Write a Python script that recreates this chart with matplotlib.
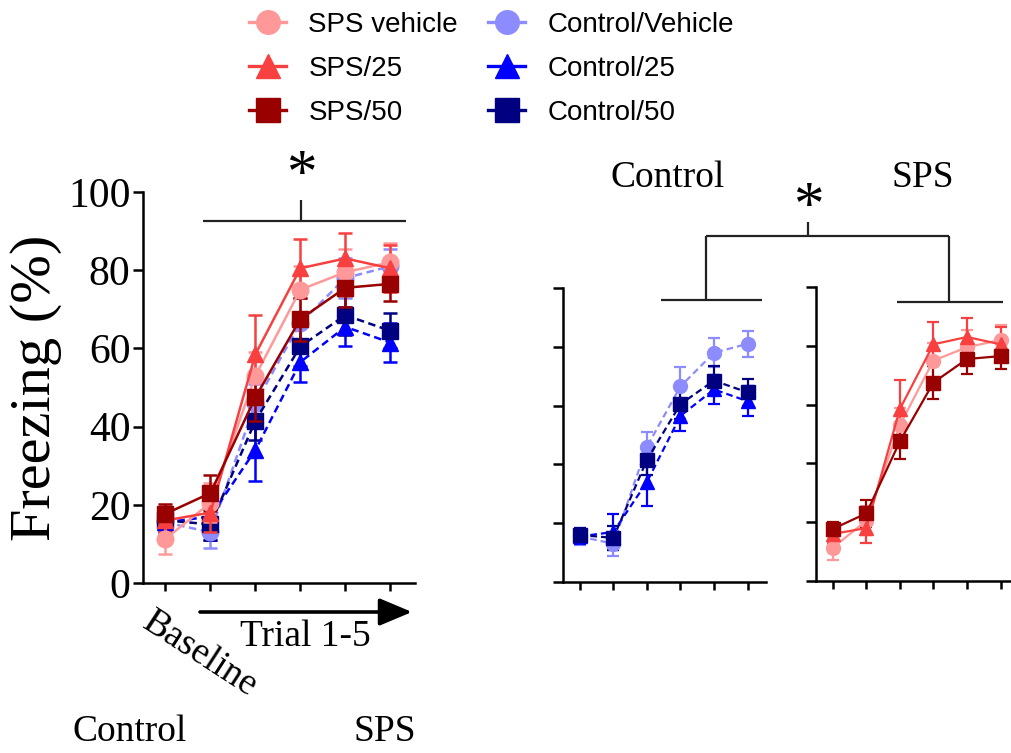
import matplotlib
matplotlib.use("Agg")
import matplotlib.pyplot as plt
from matplotlib.lines import Line2D
from matplotlib.patches import FancyArrowPatch
import numpy as np

# ---- data ----
timepoints = ["Baseline", "Trial 1", "Trial 2", "Trial 3", "Trial 4", "Trial 5"]
group_names = ["SPS vehicle", "SPS/25", "SPS/50", "Control/Vehicle", "Control/25", "Control/50"]

sps_vehicle = [11.3, 20.5, 53.0, 75.0, 79.5, 82.0]
sps_vehicle_err = [4.0, 5.0, 6.0, 6.0, 6.0, 5.0]
sps_25 = [16.0, 18.0, 58.5, 80.5, 83.0, 80.5]
sps_25_err = [3.0, 5.0, 10.0, 7.5, 6.5, 6.0]
sps_50 = [17.7, 23.0, 47.5, 67.5, 75.5, 76.5]
sps_50_err = [2.5, 4.5, 6.0, 5.5, 5.0, 4.5]
ctl_vehicle = [15.5, 13.0, 46.0, 66.5, 78.0, 81.0]
ctl_vehicle_err = [3.0, 4.0, 5.0, 6.5, 5.0, 4.5]
ctl_25 = [15.5, 17.0, 34.0, 56.5, 65.5, 61.5]
ctl_25_err = [2.5, 6.0, 8.0, 5.0, 5.0, 5.0]
ctl_50 = [16.0, 15.0, 41.5, 60.5, 68.5, 64.5]
ctl_50_err = [2.5, 4.0, 5.0, 5.0, 5.0, 4.5]

y_ticks = [0, 20, 40, 60, 80, 100]

# ---- styles ----
colors = {"SPS vehicle": "#FF9999", "SPS/25": "#F84040", "SPS/50": "#990000",
          "Control/Vehicle": "#8C8CFF", "Control/25": "#0000FF", "Control/50": "#000080"}
markers = {"SPS vehicle": "o", "SPS/25": "^", "SPS/50": "s",
           "Control/Vehicle": "o", "Control/25": "^", "Control/50": "s"}
series = {"SPS vehicle": (sps_vehicle, sps_vehicle_err),
          "SPS/25": (sps_25, sps_25_err),
          "SPS/50": (sps_50, sps_50_err),
          "Control/Vehicle": (ctl_vehicle, ctl_vehicle_err),
          "Control/25": (ctl_25, ctl_25_err),
          "Control/50": (ctl_50, ctl_50_err)}
dash = (0, (3.0, 1.8))

SERIF = "Liberation Serif"
SANS = "Liberation Sans"

W, H = 1012, 753
fig = plt.figure(figsize=(W / 100, H / 100), dpi=100)
fig.patch.set_facecolor("white")


def px_ax(x0, y0, x1, y1):
    return [x0 / W, 1 - y1 / H, (x1 - x0) / W, (y1 - y0) / H]


def style_axes(ax, labels):
    for s in ["top", "right"]:
        ax.spines[s].set_visible(False)
    for s in ["left", "bottom"]:
        ax.spines[s].set_linewidth(1.8)
    ax.set_xlim(-0.5, 5.55)
    ax.set_ylim(0, 100)
    ax.set_yticks(y_ticks)
    ax.set_xticks(np.arange(len(timepoints)))
    ax.set_xticklabels([])
    ax.tick_params(axis="y", length=7, width=1.8, direction="out")
    ax.tick_params(axis="x", length=6, width=1.8, direction="out")
    if labels:
        ax.set_yticklabels([str(v) for v in y_ticks], fontfamily=SERIF, fontsize=30)
        ax.tick_params(axis="y", pad=2)
    else:
        ax.set_yticklabels([])


def draw(ax, names, ms, cap, lw):
    x = np.arange(len(timepoints))
    for n in names:
        vals, err = series[n]
        ls = "-" if n.startswith("SPS") else dash
        z = 3 if n.startswith("SPS") else 2
        ax.errorbar(x, vals, yerr=err, color=colors[n], marker=markers[n], markersize=ms,
                    linestyle=ls, linewidth=lw, elinewidth=lw, capsize=cap, capthick=lw,
                    clip_on=False, zorder=z, label=n)


# Left panel
axL = fig.add_axes(px_ax(143, 192, 415, 583))
style_axes(axL, True)
draw(axL, ["Control/Vehicle", "Control/25", "Control/50", "SPS vehicle", "SPS/25", "SPS/50"], 12, 5, 1.8)
axL.set_ylabel("Freezing (%)", fontfamily=SERIF, fontsize=42, labelpad=4)

# Control panel
axC = fig.add_axes(px_ax(563, 288, 766, 582))
style_axes(axC, False)
draw(axC, ["Control/Vehicle", "Control/25", "Control/50"], 10, 4, 1.6)

# SPS panel
axS = fig.add_axes(px_ax(816, 287, 1019, 581))
style_axes(axS, False)
draw(axS, ["SPS vehicle", "SPS/25", "SPS/50"], 10, 4, 1.6)


def fline(xs, ys, lw=1.6):
    fig.add_artist(Line2D([x / W for x in xs], [1 - y / H for y in ys],
                          color="#222222", linewidth=lw, solid_capstyle="butt"))


def ftext(x, y, s, **kw):
    fig.text(x / W, 1 - y / H, s, **kw)


# significance brackets
fline([203, 406], [221, 221])
fline([301, 301], [221, 200])
ftext(301, 176, "*", fontfamily=SERIF, fontsize=44, ha="center", va="center")

fline([661, 762], [300, 300])
fline([706, 706], [300, 236])
fline([706, 949], [236, 236])
fline([949, 949], [236, 302])
fline([897, 1003], [302, 302])
fline([808, 808], [236, 222])
ftext(808, 208, "*", fontfamily=SERIF, fontsize=44, ha="center", va="center")

# panel titles
ftext(668, 178, "Control", fontfamily=SERIF, fontsize=27, ha="center", va="center")
ftext(923, 178, "SPS", fontfamily=SERIF, fontsize=27, ha="center", va="center")

# x-axis annotations for the left panel
arrow = FancyArrowPatch((200 / W, 1 - 612 / H), (412 / W, 1 - 612 / H), transform=fig.transFigure,
                        arrowstyle="-|>,head_length=1.0,head_width=0.42", mutation_scale=20,
                        linewidth=2.6, color="black", shrinkA=0, shrinkB=0)
fig.add_artist(arrow)
ftext(305, 637, "Trial 1-5", fontfamily=SERIF, fontsize=27, ha="center", va="center")
ftext(200, 654, "Baseline", fontfamily=SERIF, fontsize=27, ha="center", va="center",
      rotation=-33, rotation_mode="anchor")

ftext(130, 732, "Control", fontfamily=SERIF, fontsize=27, ha="center", va="center")
ftext(385, 732, "SPS", fontfamily=SERIF, fontsize=27, ha="center", va="center")

# legend
handles = []
for n in group_names:
    handles.append(Line2D([], [], color=colors[n], marker=markers[n], markersize=17,
                          linestyle="-", linewidth=2.4))
fig.legend(handles, group_names, loc="upper left", bbox_to_anchor=(238 / W, 1 - 1 / H),
           ncol=2, frameon=False, prop={"family": SANS, "size": 20},
           handlelength=1.33, handletextpad=0.8, columnspacing=1.1, labelspacing=0.64,
           borderaxespad=0, borderpad=0.4)

fig.savefig("out.png", dpi=100, facecolor="white")
